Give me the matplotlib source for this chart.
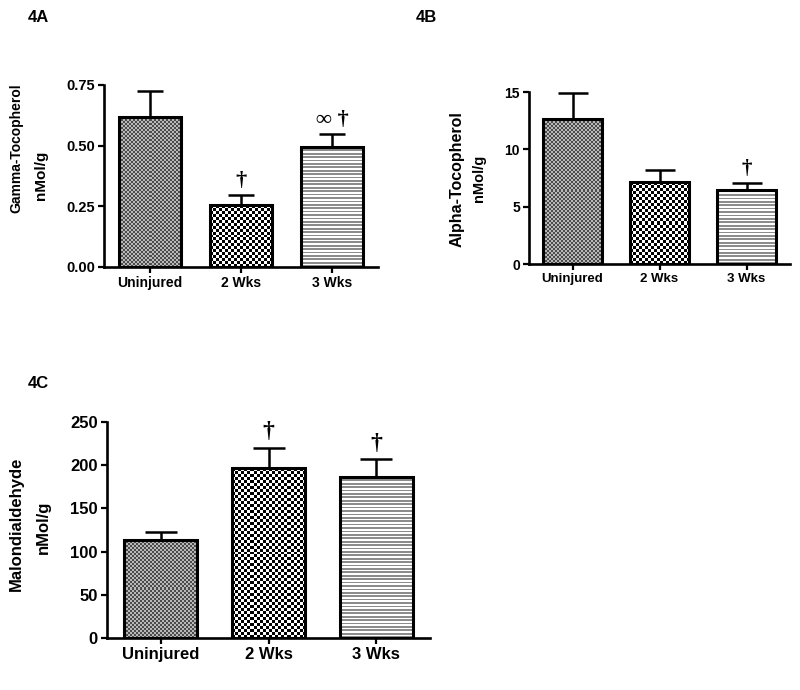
import numpy as np
import matplotlib
matplotlib.use("Agg")
import matplotlib.pyplot as plt

plt.rcParams["font.family"] = ["Liberation Sans", "DejaVu Sans"]
plt.rcParams["font.weight"] = "bold"

groups = ["Uninjured", "2 Wks", "3 Wks"]

gamma_mean = [0.617, 0.255, 0.495]
gamma_err = [0.107, 0.040, 0.052]
gamma_marks = ["", "\u2020", "\u221e \u2020"]

alpha_mean = [12.62, 7.12, 6.48]
alpha_err = [2.26, 1.10, 0.58]
alpha_marks = ["", "", "\u2020"]

mda_mean = [113.5, 196.6, 186.5]
mda_err = [9.3, 23.6, 20.5]
mda_marks = ["", "\u2020", "\u2020"]

W, H = 800, 690
fig = plt.figure(figsize=(W / 100, H / 100), dpi=100)


def fpos(x0, y0, x1, y1):
    # pixel box (top-left origin) -> figure fraction rect
    return [x0 / W, 1 - y1 / H, (x1 - x0) / W, (y1 - y0) / H]


def pattern(ax, bar, kind, cell):
    # fill a bar with a checker / line texture clipped to the bar outline
    x0, y0 = bar.get_x(), bar.get_y()
    x1, y1 = x0 + bar.get_width(), y0 + bar.get_height()
    (px0, py0), (px1, py1) = ax.transData.transform([(x0, y0), (x1, y1)])
    nc = max(1, int(round(abs(px1 - px0) / cell)))
    nr = max(1, int(round(abs(py1 - py0) / cell)))
    i, j = np.mgrid[0:nr, 0:nc]
    if kind == "fine":
        img = np.where((i + j) % 2 == 0, 0.30, 0.72)
    elif kind == "coarse":
        img = np.where((i + j) % 2 == 0, 0.0, 1.0)
    else:
        img = np.where(i % 2 == 0, 0.55, 1.0)
    im = ax.imshow(img, cmap="gray", vmin=0, vmax=1, extent=(x0, x1, y0, y1),
                   aspect="auto", interpolation="nearest", zorder=2, origin="lower")
    im.set_clip_path(bar)


def panel(rect, mean, err, marks, yticks, ticklabels, fs_tick, fs_cat,
          capsize, fs_mark, mark_off):
    ax = fig.add_axes(rect)
    ax.set_xlim(-0.5, 2.5)
    ax.set_ylim(0, yticks[-1])
    x = np.arange(len(groups))
    bars = ax.bar(x, mean, width=0.68, facecolor="none", edgecolor="black",
                  linewidth=2.2, zorder=3)
    for b, kind, cell in zip(bars, ("fine", "coarse", "lines"), (2.0, 3.0, 1.7)):
        pattern(ax, b, kind, cell)
    ax.errorbar(x, mean, yerr=[[0] * 3, err], fmt="none", ecolor="black",
                elinewidth=1.8, capsize=capsize, capthick=1.8, zorder=2.5)
    for xi, m, e, t in zip(x, mean, err, marks):
        if t:
            ax.annotate(t, (xi, m + e), xytext=(0, mark_off), textcoords="offset points",
                        ha="center", va="bottom", fontsize=fs_mark,
                        family=["Liberation Serif", "DejaVu Serif"], fontweight="bold")
    for s in ("top", "right"):
        ax.spines[s].set_visible(False)
    for s in ("left", "bottom"):
        ax.spines[s].set_linewidth(1.9)
    ax.set_yticks(yticks)
    ax.set_yticklabels(ticklabels, fontsize=fs_tick, fontweight="bold")
    ax.set_xticks(x)
    ax.set_xticklabels(groups, fontsize=fs_cat, fontweight="bold")
    ax.tick_params(axis="both", width=1.6, length=4.5, direction="out", pad=2)
    ax.set_xlim(-0.5, 2.5)
    ax.set_ylim(0, yticks[-1])
    return ax


panel(fpos(104, 85, 378, 267), gamma_mean, gamma_err, gamma_marks,
      [0, 0.25, 0.5, 0.75], ["0.00", "0.25", "0.50", "0.75"], 10.5, 10,
      9.5, 16, 3)
panel(fpos(529, 92, 790, 264), alpha_mean, alpha_err, alpha_marks,
      [0, 5, 10, 15], ["0", "5", "10", "15"], 10, 9.5,
      10.5, 15, 3)
panel(fpos(107, 422, 430, 638), mda_mean, mda_err, mda_marks,
      [0, 50, 100, 150, 200, 250], ["0", "50", "100", "150", "200", "250"], 12, 12,
      11.5, 17, 4)


def ftext(x, y, s, **kw):
    fig.text(x / W, 1 - y / H, s, ha="center", va="center", fontweight="bold", **kw)


ftext(38, 17, "4A", fontsize=12)
ftext(426, 17, "4B", fontsize=12)
ftext(38, 383, "4C", fontsize=12)

ftext(16, 148, "Gamma-Tocopherol", rotation=90, fontsize=10)
ftext(41, 175, "nMol/g", rotation=90, fontsize=11)
ftext(457, 179, "Alpha-Tocopherol", rotation=90, fontsize=11.5)
ftext(479, 178, "nMol/g", rotation=90, fontsize=10.5)
ftext(16, 524, "Malondialdehyde", rotation=90, fontsize=12)
ftext(43, 527, "nMol/g", rotation=90, fontsize=12)

fig.savefig("out.png", dpi=100)
